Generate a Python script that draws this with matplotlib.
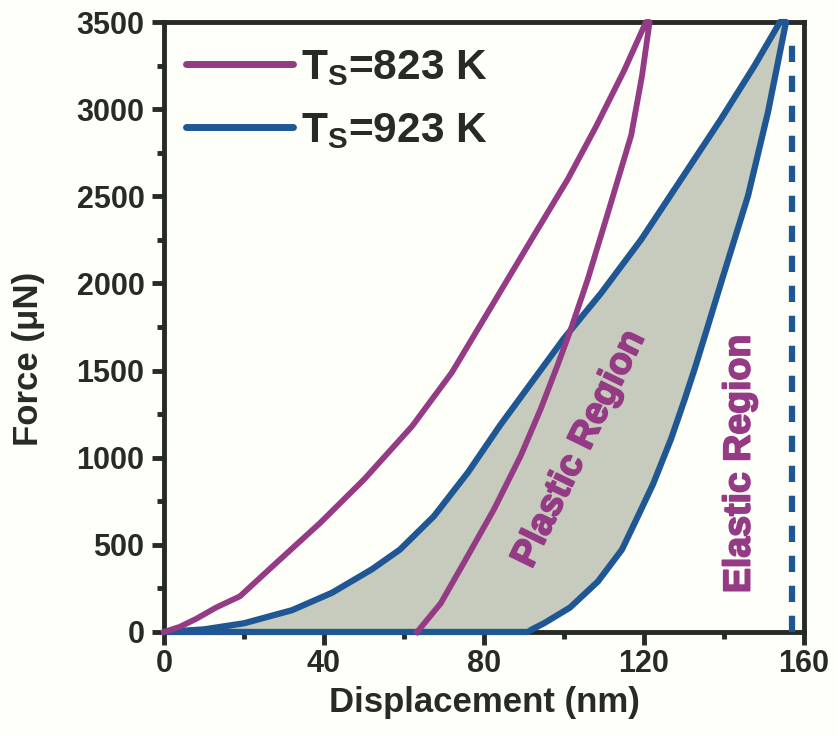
import matplotlib

matplotlib.use("Agg")
import matplotlib.pyplot as plt
import matplotlib.patheffects as pe
from matplotlib.ticker import MultipleLocator

# Ts = 823 K load / unload (displacement nm, force uN)
mag_load_x = [0, 4, 8, 13, 19, 28, 39, 50, 62, 72, 78, 84, 92.6, 101, 108, 115, 120.5]
mag_load_f = [0, 30, 75, 140, 205, 395, 625, 875, 1180, 1490, 1720, 1950, 2280, 2600, 2900, 3220, 3500]
mag_unload_x = [121.4, 119.5, 116.8, 111, 105.9, 101.8, 98.4, 94.2, 89.2, 82.5, 75.9, 69.2, 63.3]
mag_unload_f = [3500, 3190, 2850, 2406, 2021, 1743, 1531, 1281, 1012, 704, 435, 165, 0]

# Ts = 923 K load / unload (unload ends back along zero force)
blue_load_x = [0, 10, 20, 32, 42, 52, 59, 67.5, 76, 84, 92.6, 100, 109.3, 119.3, 129.3, 139.3, 147.7, 154]
blue_load_f = [0, 15, 50, 125, 225, 360, 473, 665, 916, 1185, 1454, 1685, 1945, 2252, 2598, 2945, 3252, 3500]
blue_unload_x = [155.5, 151, 146, 139.5, 135.5, 132.7, 130.1, 126.8, 122.3, 118.5, 114.5,
                 108.5, 101.5, 95, 92, 91, 0]
blue_unload_f = [3500, 2983, 2502, 2021, 1720, 1512, 1330, 1110, 850, 665, 473,
                 290, 140, 50, 15, 0, 0]

elastic_x = 157
elastic_top = 3380

labels = [r"T$_\mathrm{S}$=823 K", r"T$_\mathrm{S}$=923 K"]

MAG = "#953a84"
BLUE = "#1f5794"
FILL = "#c6cbbd"
INK = "#262b26"
BG = "#fffffa"

plt.rcParams["font.family"] = ["Liberation Sans", "DejaVu Sans"]
plt.rcParams["font.weight"] = "bold"
plt.rcParams["axes.labelweight"] = "bold"
plt.rcParams["mathtext.fontset"] = "custom"
plt.rcParams["mathtext.rm"] = "Liberation Sans"

fig = plt.figure(figsize=(8.38, 7.37), dpi=100, facecolor=BG)
ax = fig.add_axes([0.1957, 0.1425, 0.7637, 0.8276])
ax.set_facecolor(BG)

bx = blue_load_x + blue_unload_x
bf = blue_load_f + blue_unload_f
ax.fill(bx, bf, color=FILL, zorder=1, lw=0)
ax.plot(bx, bf, color=BLUE, lw=4.5, solid_joinstyle="round", solid_capstyle="round",
        clip_on=False, zorder=3)
ax.plot(mag_load_x + mag_unload_x, mag_load_f + mag_unload_f, color=MAG, lw=4.2,
        solid_joinstyle="round", clip_on=False, zorder=4)

# legend proxies
h1, = ax.plot([], [], color=MAG, lw=5, solid_capstyle="round")
h2, = ax.plot([], [], color=BLUE, lw=5, solid_capstyle="round")

ax.vlines(elastic_x, 0, elastic_top, colors=BLUE, lw=4.5, linestyles=(0, (2.6, 2.2)),
          zorder=3)

thick = [pe.withStroke(linewidth=1.3, foreground=MAG)]
ax.text(103.8, 1050, "Plastic Region", rotation=64, color=MAG, fontsize=27,
        fontweight="bold", ha="center", va="center", zorder=5, path_effects=thick)
ax.text(143.9, 964, "Elastic Region", rotation=90, color=MAG, fontsize=27,
        fontweight="bold", ha="center", va="center", zorder=5, path_effects=thick)

ax.set_xlim(0, 160)
ax.set_ylim(0, 3500)
ax.xaxis.set_major_locator(MultipleLocator(40))
ax.xaxis.set_minor_locator(MultipleLocator(20))
ax.yaxis.set_major_locator(MultipleLocator(500))
ax.yaxis.set_minor_locator(MultipleLocator(250))

for s in ax.spines.values():
    s.set_linewidth(3.5)
    s.set_color(INK)
ax.tick_params(which="major", length=9, width=3.5, color=INK, labelsize=22,
               labelcolor=INK, pad=3)
ax.tick_params(which="minor", length=5, width=3.5, color=INK)
ax.tick_params(axis="y", which="major", pad=5)

ax.set_xlabel("Displacement (nm)", fontsize=25, color=INK, labelpad=5)
ax.set_ylabel("Force (\u03bcN)", fontsize=25, color=INK)
ax.yaxis.set_label_coords(-0.186, 0.447)

leg = ax.legend([h1, h2], labels, loc="upper left", bbox_to_anchor=(0.035, 0.958),
                frameon=False, fontsize=30.5, handlelength=2.52, handletextpad=0.18,
                labelspacing=0.55, borderpad=0, borderaxespad=0)
for t in leg.get_texts():
    t.set_color(INK)
    t.set_fontweight("bold")

fig.savefig("out.png", dpi=100, facecolor=fig.get_facecolor())
